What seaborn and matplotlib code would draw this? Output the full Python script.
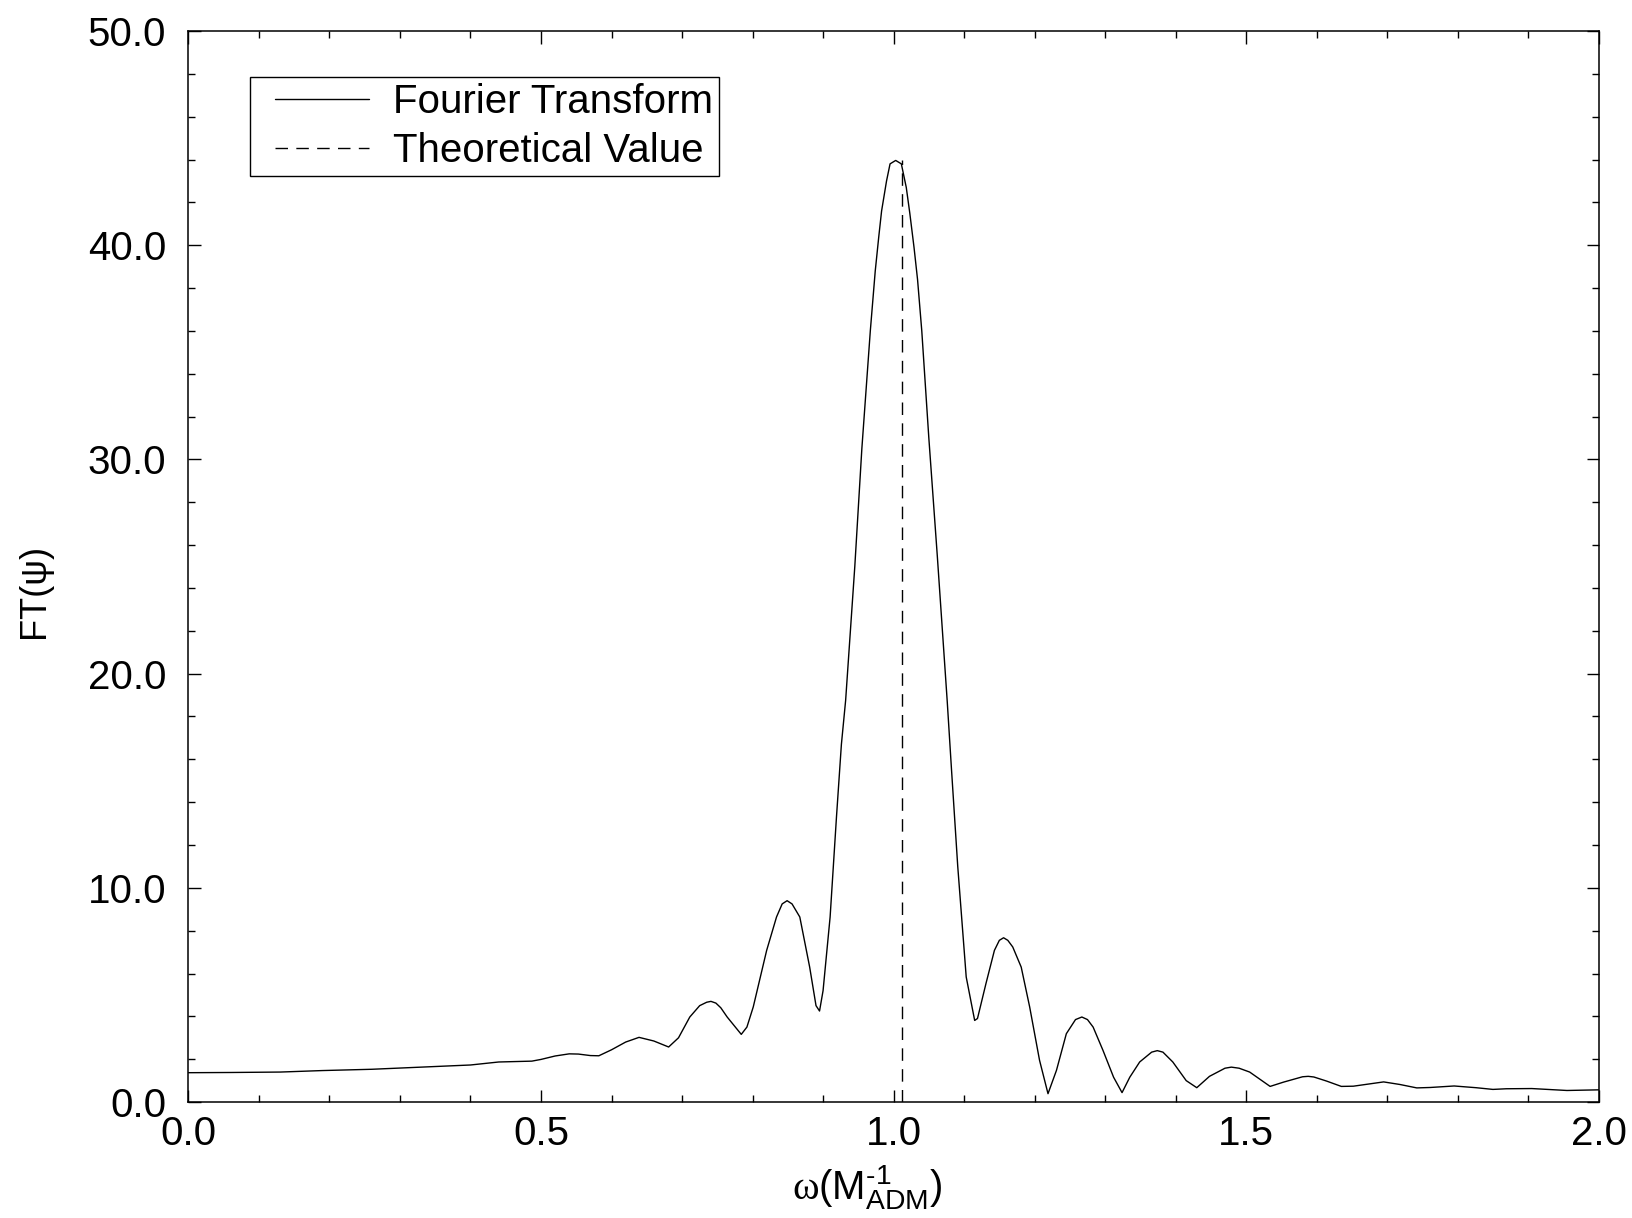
import matplotlib
matplotlib.use("Agg")
import matplotlib.pyplot as plt
from matplotlib.ticker import MultipleLocator, FormatStrFormatter
from matplotlib.legend_handler import HandlerLine2D
import numpy as np
import seaborn as sns
import pandas as pd

# ---- data ----
omega = [0.000, 0.06, 0.13, 0.19, 0.26, 0.33, 0.40, 0.44, 0.487, 0.50,
         0.52, 0.54, 0.553, 0.57, 0.582, 0.60, 0.62, 0.639, 0.66, 0.681,
         0.695, 0.711, 0.725, 0.735, 0.741, 0.748, 0.755, 0.764, 0.784, 0.792,
         0.801, 0.820, 0.834, 0.842, 0.849, 0.856, 0.867, 0.881, 0.890, 0.895,
         0.900, 0.910, 0.919, 0.926, 0.932, 0.945, 0.955, 0.967, 0.974, 0.979,
         0.983, 0.990, 0.995, 1.003, 1.011, 1.018, 1.023, 1.029, 1.034, 1.040,
         1.050, 1.062, 1.076, 1.082, 1.091, 1.103, 1.115, 1.119, 1.131, 1.143,
         1.150, 1.156, 1.162, 1.169, 1.181, 1.193, 1.207, 1.219, 1.231, 1.245,
         1.258, 1.267, 1.275, 1.283, 1.297, 1.312, 1.324, 1.335, 1.349, 1.366,
         1.374, 1.382, 1.396, 1.415, 1.430, 1.448, 1.470, 1.479, 1.490, 1.505,
         1.534, 1.553, 1.580, 1.588, 1.596, 1.614, 1.635, 1.652, 1.695, 1.718,
         1.742, 1.761, 1.795, 1.826, 1.850, 1.869, 1.905, 1.955, 2.000]
ft_psi = [1.37, 1.38, 1.40, 1.47, 1.53, 1.63, 1.73, 1.87, 1.91, 1.99,
          2.15, 2.25, 2.24, 2.17, 2.16, 2.44, 2.80, 3.02, 2.85, 2.57,
          3.00, 3.97, 4.50, 4.66, 4.70, 4.62, 4.40, 3.97, 3.16, 3.50,
          4.44, 7.08, 8.64, 9.25, 9.40, 9.25, 8.64, 6.30, 4.50, 4.25,
          5.20, 8.64, 13.3, 16.7, 18.75, 25.0, 30.5, 36.0, 38.8, 40.4,
          41.6, 43.0, 43.8, 43.96, 43.8, 42.7, 41.5, 39.9, 38.4, 36.0,
          31.0, 25.5, 18.75, 15.6, 11.0, 5.84, 3.81, 3.90, 5.53, 7.08,
          7.55, 7.67, 7.55, 7.24, 6.30, 4.44, 1.95, 0.39, 1.48, 3.19,
          3.85, 3.97, 3.85, 3.50, 2.41, 1.16, 0.44, 1.16, 1.87, 2.33,
          2.40, 2.33, 1.87, 1.00, 0.67, 1.20, 1.58, 1.63, 1.58, 1.40,
          0.73, 0.93, 1.18, 1.20, 1.17, 0.98, 0.73, 0.74, 0.94, 0.82,
          0.66, 0.68, 0.75, 0.67, 0.59, 0.62, 0.63, 0.54, 0.57]

theory_omega = [1.0116, 1.0116]
theory_ft = [0.0, 44.0]

series_labels = ["Fourier Transform", "Theoretical Value"]

# ---- style ----
sns.set_style("ticks")
plt.rcParams["font.family"] = ["Liberation Sans", "DejaVu Sans"]
plt.rcParams["mathtext.fontset"] = "custom"
plt.rcParams["mathtext.rm"] = "Liberation Sans"
plt.rcParams["mathtext.it"] = "Liberation Serif"
plt.rcParams["mathtext.bf"] = "Liberation Sans:bold"
plt.rcParams["text.color"] = "black"
plt.rcParams["axes.labelcolor"] = "black"
plt.rcParams["xtick.color"] = "black"
plt.rcParams["ytick.color"] = "black"

FS = 29

fig = plt.figure(figsize=(16.33, 12.18), dpi=100)
ax = fig.add_axes([0.1154, 0.0952, 0.979 - 0.1154, 0.9745 - 0.0952])

df_ft = pd.DataFrame({"omega": omega, "ft": ft_psi})
df_th = pd.DataFrame({"omega": theory_omega, "ft": theory_ft})

sns.lineplot(data=df_ft, x="omega", y="ft", ax=ax, color="black",
             linewidth=1.0, estimator=None, sort=False, label=series_labels[0])
sns.lineplot(data=df_th, x="omega", y="ft", ax=ax, color="black",
             linewidth=1.0, estimator=None, sort=False, label=series_labels[1])
ax.lines[1].set_linestyle((0, (9, 6)))

ax.set_xlim(0.0, 2.0)
ax.set_ylim(0.0, 50.0)
ax.xaxis.set_major_locator(MultipleLocator(0.5))
ax.xaxis.set_minor_locator(MultipleLocator(0.1))
ax.yaxis.set_major_locator(MultipleLocator(10))
ax.yaxis.set_minor_locator(MultipleLocator(2))
ax.xaxis.set_major_formatter(FormatStrFormatter("%.1f"))
ax.yaxis.set_major_formatter(FormatStrFormatter("%.1f"))

ax.tick_params(which="both", direction="in", top=True, right=True,
               color="black", width=1.0, labelcolor="black")
ax.tick_params(which="major", length=9)
ax.tick_params(which="minor", length=5)
ax.tick_params(axis="x", which="major", labelsize=FS, pad=9)
ax.tick_params(axis="y", which="major", labelsize=FS, pad=16)

for s in ax.spines.values():
    s.set_visible(True)
    s.set_color("black")
    s.set_linewidth(1.1)

ax.set_xlabel(r"$\omega$(M$^{\text{-1}}_{\text{ADM}}$)", fontsize=FS)
ax.xaxis.set_label_coords(0.481, -0.058)
ax.set_ylabel("FT(ψ)", fontsize=26)
ax.yaxis.set_label_coords(-0.097, 0.477)


class ShiftedLine(HandlerLine2D):
    def get_xdata(self, legend, xdescent, ydescent, width, height, fontsize):
        shift = 13.7
        xd = np.array([-xdescent + shift, -xdescent + width])
        return xd, xd


leg = ax.legend(loc="upper left", bbox_to_anchor=(0.0436, 0.957),
                borderaxespad=0, fontsize=FS, frameon=True, fancybox=False,
                edgecolor="black", framealpha=1, handlelength=2.81,
                handletextpad=0.58, labelspacing=0.28, borderpad=0.15,
                handler_map={plt.Line2D: ShiftedLine()})
leg.get_frame().set_linewidth(1.0)
for t in leg.get_texts():
    t.set_color("black")

fig.savefig("out.png", dpi=100, facecolor="white")
